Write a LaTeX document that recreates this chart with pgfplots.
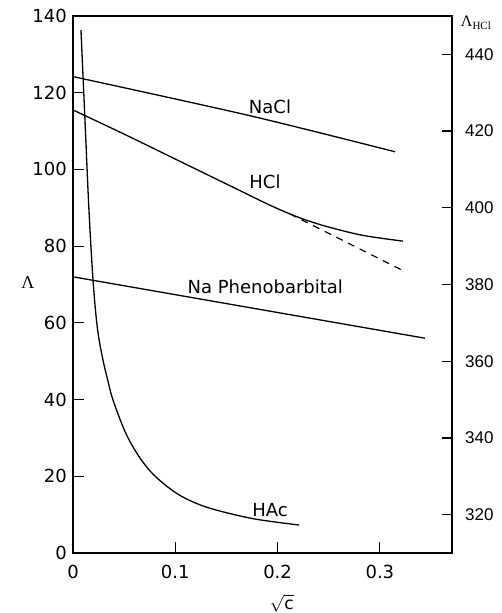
\documentclass[border=0pt]{standalone}
\usepackage{fontspec}
\setmainfont{DejaVu Sans}
\newfontfamily\serif{Liberation Serif}
\newfontfamily\narrow{Liberation Sans}
\usepackage{pgfplots}
\pgfplotsset{compat=1.18}
\begin{document}
\fontsize{18}{21}\selectfont
\begin{tikzpicture}
\path[use as bounding box] (-73pt,-60pt) rectangle (429pt,553pt);
\begin{axis}[
  at={(0,0)}, anchor=south west,
  width=379pt, height=537pt, scale only axis,
  xmin=0, xmax=0.3705, ymin=0, ymax=140,
  xtick={0,0.1,0.2,0.3}, ytick={0,20,...,140},
  xtick pos=left, ytick pos=left, tick align=inside,
  major tick length=11pt,
  axis line style={line width=1.3pt},
  tick style={line width=1.2pt, black},
  xticklabel={\pgfmathprintnumber[fixed,assume math mode=true]{\tick}},
  yticklabel={\pgfmathprintnumber[fixed,assume math mode=true]{\tick}},
  tick label style={font=\fontsize{18}{21}\selectfont, inner sep=0pt},
  xticklabel style={anchor=north, yshift=-12pt},
  yticklabel style={anchor=east, xshift=-6pt},
  clip=false,
]
% NaCl
\addplot[black, no markers, line width=1.3pt, smooth] coordinates {(0,124.2) (0.173,114.0) (0.3148,104.6)};
% Na Phenobarbital
\addplot[black, no markers, line width=1.3pt] coordinates {(0,72.0) (0.344,56.0)};
% HAc
\addplot[black, no markers, line width=1.3pt, smooth, tension=0.6] coordinates {
  (0.0078,136.3) (0.0117,112.9) (0.0156,89.4) (0.0196,71.2) (0.0235,59.4)
  (0.0283,51.6) (0.034,45.0) (0.0391,39.9) (0.050,32.2) (0.059,27.5)
  (0.070,23.1) (0.082,19.6) (0.101,15.6) (0.120,13.0) (0.140,11.2)
  (0.173,9.1) (0.200,8.0) (0.221,7.3)};
\node at (axis cs:0.1926,116.3) {NaCl};
\node at (axis cs:0.1877,96.7) {HCl};
\node at (axis cs:0.188,69.3) {Na Phenobarbital};
\node at (axis cs:0.1926,11.2) {HAc};
\node[inner sep=0pt, font=\serif\fontsize{18}{21}\selectfont] at (rel axis cs:-0.119,0.503) {Λ};
\node[inner sep=0pt, font=\fontsize{17}{20}\selectfont] at (rel axis cs:0.551,-0.094) {$\sqrt{\mbox{c}}$};
\node[inner sep=0pt, font=\serif\fontsize{16}{18}\selectfont] at (rel axis cs:1.063,0.987) {Λ\raisebox{-2.5pt}{\fontsize{11}{12}\selectfont HCl}};
\end{axis}
\begin{axis}[
  at={(0,0)}, anchor=south west,
  width=379pt, height=537pt, scale only axis,
  xmin=0, xmax=0.3705, ymin=310, ymax=450,
  hide x axis, axis y line*=right,
  y axis line style={draw=none},
  ytick={320,340,...,440}, tick align=inside,
  major tick length=10pt,
  tick style={line width=1.2pt, black},
  yticklabel={\pgfmathprintnumber[assume math mode=true]{\tick}},
  tick label style={font=\narrow\fontsize{17}{20}\selectfont, inner sep=0pt},
  yticklabel style={anchor=west, xshift=13pt},
]
% HCl (right axis)
\addplot[black, no markers, line width=1.3pt, smooth, tension=0.5] coordinates {
  (0,425.5) (0.05,419.2) (0.1,412.7) (0.15,406.2) (0.19,401.0)
  (0.212,398.4) (0.23,396.6) (0.251,394.9) (0.2835,392.8) (0.3226,391.3)};
\addplot[black, no markers, line width=1.2pt, dash pattern=on 7pt off 6pt] coordinates {(0.212,398.4) (0.325,383.3)};
\end{axis}
\end{tikzpicture}
\end{document}
